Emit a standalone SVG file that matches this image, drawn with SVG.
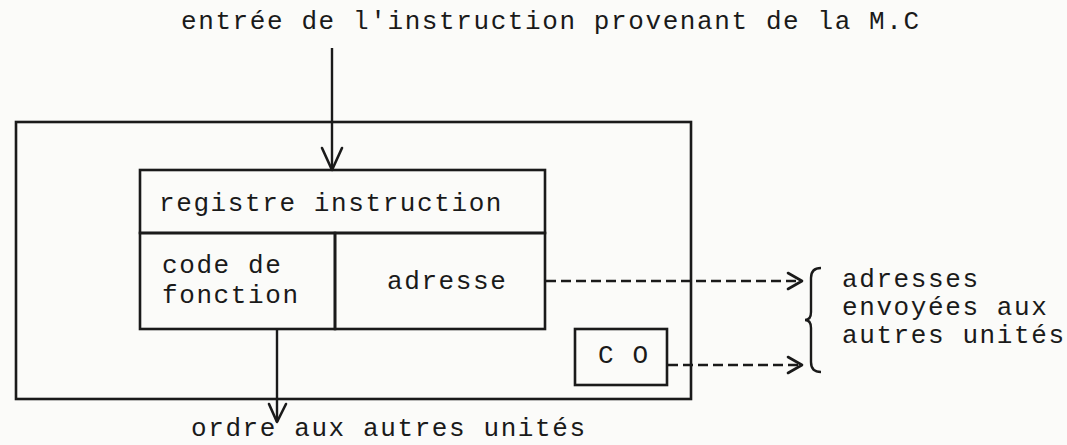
<svg xmlns="http://www.w3.org/2000/svg" width="1067" height="445" viewBox="0 0 1067 445">
  <style>
    .t { font-family: "Liberation Mono", "DejaVu Sans Mono", monospace; font-size: 26px; letter-spacing: 1.6px; fill: #1a1a1a; }
    .box { fill: none; stroke: #1a1a1a; stroke-width: 2.6; stroke-linejoin: miter; }
    .line { fill: none; stroke: #1a1a1a; stroke-width: 2.4; }
    .dash { fill: none; stroke: #1a1a1a; stroke-width: 2.6; stroke-dasharray: 10 5; }
    .head { fill: none; stroke: #1a1a1a; stroke-width: 2.6; stroke-linecap: round; stroke-linejoin: round; }
  </style>
  <rect width="1067" height="445" fill="#fbfbf9"/>

  <g id="titre">
    <text class="t" x="181" y="29">entrée de l'instruction provenant de la M.C</text>
  </g>

  <g id="unite">
    <rect class="box" x="16" y="122" width="675" height="277"/>
  </g>

  <g id="registre-instruction">
    <rect class="box" x="140" y="170" width="405" height="63"/>
    <text class="t" x="159" y="211">registre instruction</text>
  </g>

  <g id="code-de-fonction">
    <rect class="box" x="140" y="233" width="195" height="96"/>
    <text class="t" x="162" y="273">code de</text>
    <text class="t" x="162" y="303">fonction</text>
  </g>

  <g id="adresse">
    <rect class="box" x="335" y="233" width="210" height="96"/>
    <text class="t" x="387" y="289">adresse</text>
  </g>

  <g id="co">
    <rect class="box" x="575" y="329" width="92" height="56"/>
    <text class="t" x="598" y="363">C O</text>
  </g>

  <g id="adresses-envoyees">
    <path class="line" d="M 821 268 Q 811 268 811 278 L 811 312 Q 811 320 805 320 Q 811 320 811 328 L 811 362 Q 811 372 821 372"/>
    <text class="t" x="842" y="287">adresses</text>
    <text class="t" x="842" y="315">envoyées aux</text>
    <text class="t" x="842" y="343">autres unités</text>
  </g>

  <g id="ordre">
    <text class="t" x="191" y="436">ordre aux autres unités</text>
  </g>

  <g id="connecteurs">
    <line class="line" x1="332" y1="48" x2="332" y2="170"/>
    <polyline class="head" points="322,148 332,170 342,148"/>
    <line class="line" x1="277" y1="329" x2="277" y2="422"/>
    <polyline class="head" points="269,404 277,422 286,404"/>
    <line class="dash" x1="546" y1="281" x2="798" y2="281"/>
    <polyline class="head" points="788,273 802,281 788,289"/>
    <line class="dash" x1="668" y1="365" x2="798" y2="365"/>
    <polyline class="head" points="788,357 802,365 788,373"/>
  </g>
</svg>
